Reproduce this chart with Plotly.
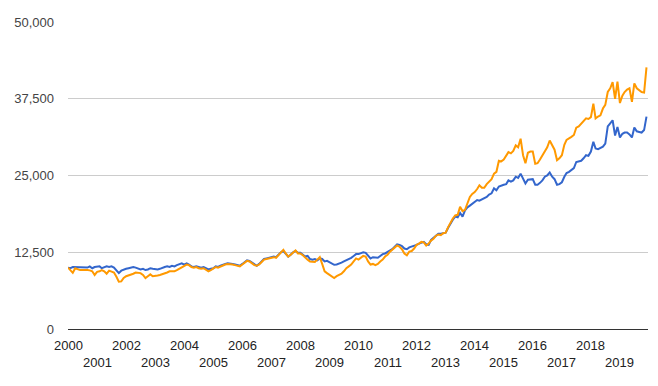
import pandas as pd
import plotly.graph_objects as go

# Monthly dates Jan 2000 .. Dec 2019
dates = pd.date_range("2000-01-01", "2019-12-01", freq="MS")

series_a_name = "Portfolio A"
series_a = [
    10000, 9900, 10100, 10100, 10000, 10100, 10000, 10100, 10000, 10200, 9900, 10100,
    10100, 10200, 9900, 10000, 10200, 10100, 10200, 10000, 9600, 9100, 9500, 9700,
    9800, 9900, 10000, 10100, 10000, 9900, 9700, 9800, 9600, 9700, 9900, 9800,
    9700, 9700, 9800, 10000, 10100, 10200, 10100, 10300, 10200, 10400, 10500, 10700,
    10500, 10700, 10500, 10200, 10100, 10200, 10100, 10000, 10100, 9900, 9700, 9800,
    9900, 10200, 10100, 10300, 10500, 10600, 10700, 10700, 10600, 10500, 10400, 10300,
    10600, 10900, 11200, 11100, 10800, 10500, 10300, 10600, 11000, 11400, 11500, 11600,
    11700, 11800, 11700, 12100, 12500, 12700, 12300, 11800, 12100, 12500, 12700, 12400,
    12400, 12100, 11800, 11900, 11400, 11300, 11400, 11200, 11500, 11400, 11000, 11100,
    10900, 10600, 10450, 10500, 10600, 10800, 11000, 11200, 11300, 11600, 11900, 12200,
    12200, 12300, 12500, 12400, 11900, 11500, 11700, 11600, 11600, 11900, 12200, 12300,
    12500, 12800, 13000, 13400, 13800, 13700, 13500, 13100, 13000, 13300, 13400, 13600,
    13700, 13900, 14100, 14200, 13800, 13700, 14500, 14800, 15200, 15500, 15500, 15600,
    15700, 16500, 17200, 17800, 18300, 18200, 18900, 18300, 19300, 19800, 20100, 20400,
    20600, 21000, 20900, 21100, 21200, 21500, 21900, 22100, 22900, 22600, 23200, 23400,
    23500, 23600, 24200, 24000, 24200, 24800, 24600, 25300, 24400, 23700, 24300, 24300,
    24400, 23500, 23500, 23800, 24200, 24800, 25000, 25500, 24800, 24400, 23500, 23600,
    23900, 24800, 25400, 25600, 25900, 26200, 27200, 27300, 27400, 27800, 28300, 28200,
    28900, 30500, 29400, 29300, 29500, 29700, 30200, 33000, 33500, 34000, 31500, 32900,
    31200, 31800, 32000, 32000, 31700, 31200, 32800, 32200, 32100, 32000, 32400, 34600,
]

series_b_name = "Portfolio B"
series_b = [
    10000, 9600, 9150, 9900, 9700, 9600, 9600, 9650, 9600, 9550, 9400, 8800,
    9300, 9400, 9600, 9400, 9000, 9500, 9400, 9200, 8500, 7700, 7750, 8300,
    8600, 8700, 8900, 9000, 9200, 9100, 9100, 8800, 8300, 8600, 8900, 8600,
    8600, 8700, 8800, 8900, 9000, 9200, 9400, 9400, 9400, 9600, 9800, 10000,
    10200, 10500, 10400, 10100, 10000, 10100, 9900, 9800, 9900, 9700, 9400, 9600,
    9800, 10100, 10000, 10200, 10400, 10500, 10600, 10600, 10500, 10400, 10300, 10200,
    10500, 10800, 11100, 11000, 10700, 10400, 10300, 10500, 10900, 11300, 11400, 11500,
    11600, 11700, 11600, 12000, 12400, 12900, 12300, 11800, 12100, 12500, 12800, 12300,
    12300, 12000, 11600, 11300, 11000, 11000, 10900, 11300, 11700, 10600, 9400, 9100,
    8800, 8500, 8300, 8600, 8800, 9000, 9400, 9900, 10200, 10500, 11000, 11500,
    11300, 11600, 11900, 11800, 11000, 10500, 10600, 10400, 10600, 11000, 11300, 11800,
    12100, 12600, 12900, 13300, 13600, 13400, 13000, 12300, 12000, 12600, 12700, 13100,
    13700, 13900, 14200, 14100, 13600, 13900, 14400, 14700, 15200, 15400, 15300, 15600,
    15700, 16600, 17300, 18000, 18500, 18600, 19900, 19200, 19400, 20600, 21500, 22000,
    22300, 22800, 23400, 23000, 23000, 23600, 24000, 24400, 25300, 25600, 27400, 27300,
    27600, 28200, 28800, 28600, 29000, 29900, 29600, 31000, 28300, 27000, 28700, 28900,
    28900, 26900, 27000, 27600, 28300, 28900, 29600, 30700, 29800, 29200, 27500, 27800,
    28300, 30000, 30800, 31000, 31300, 31600, 32800, 33000, 33500, 33800, 34300, 34200,
    34500, 36700, 34300, 34600, 34800, 35900, 36500, 38600, 39200, 40200, 37500, 40300,
    36800, 38000, 38600, 39000, 39200, 37000, 40000, 39200, 38900, 38600, 38500, 42600,
]

y_ticks = [0, 12500, 25000, 37500, 50000]
years = list(range(2000, 2020))
year_labels = [str(y) for y in years]

FONT = "Arial, 'Liberation Sans', sans-serif"

fig = go.Figure()
fig.add_trace(go.Scatter(x=dates, y=series_a, mode="lines", name=series_a_name,
                         line=dict(color="#3366cc", width=2)))
fig.add_trace(go.Scatter(x=dates, y=series_b, mode="lines", name=series_b_name,
                         line=dict(color="#ff9900", width=2)))

# Staggered year labels (even years on first row, odd years on second row)
for y, lab in zip(years, year_labels):
    fig.add_annotation(
        x=f"{y}-01-01", xref="x", y=0, yref="paper",
        text=lab, showarrow=False,
        xanchor="center", yanchor="middle",
        yshift=-16.5 if y % 2 == 0 else -33.8,
        font=dict(family=FONT, size=13, color="#222222"),
    )

fig.update_layout(
    width=658, height=386,
    margin=dict(l=68, r=10, t=21.7, b=56.7, autoexpand=False),
    paper_bgcolor="white", plot_bgcolor="white",
    showlegend=False,
    font=dict(family=FONT, size=13, color="#444444"),
)
fig.update_xaxes(
    type="date",
    range=["2000-01-01", "2019-12-20"],
    showticklabels=False, automargin=False,
    showgrid=False, zeroline=False, showline=False, ticks="",
)
fig.update_yaxes(
    range=[0, 50000], tickmode="array", tickvals=y_ticks,
    tickformat=",d", showgrid=True, gridcolor="#cccccc", gridwidth=1,
    zeroline=True, zerolinecolor="#333333", zerolinewidth=1,
    showline=False, ticks="", ticklabelstandoff=13, automargin=False,
    tickfont=dict(family=FONT, size=13, color="#444444"),
)

fig.write_html(
    "out.html",
    config={"displayModeBar": False},
    post_script="document.body.style.margin='0';document.body.style.overflow='hidden';",
)
